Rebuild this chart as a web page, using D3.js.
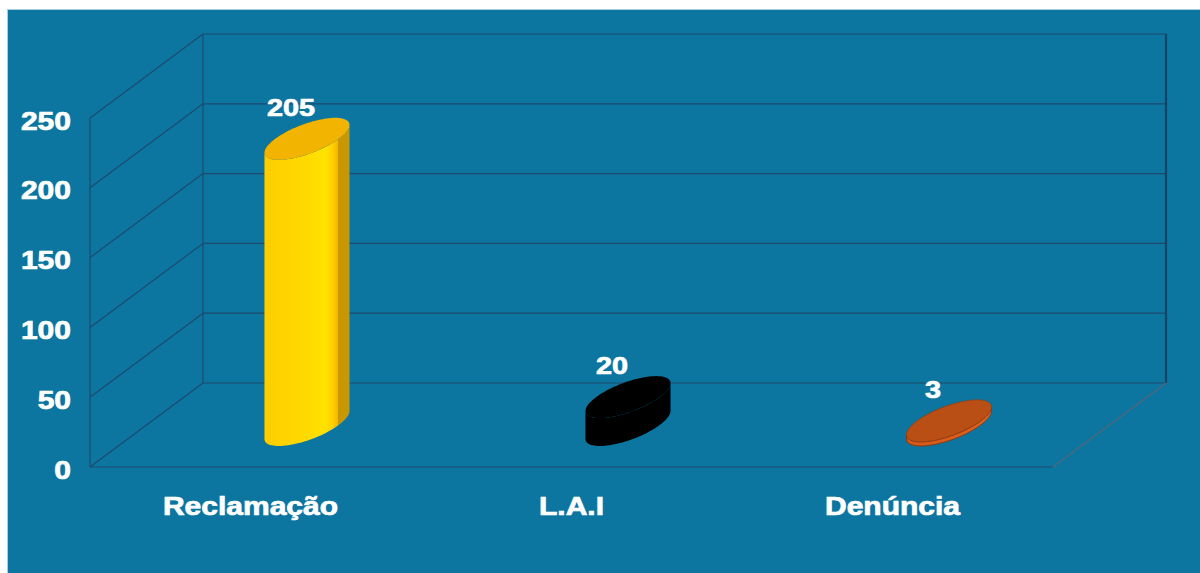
<!DOCTYPE html>
<html>
<head>
<meta charset="utf-8">
<script src="https://cdn.jsdelivr.net/npm/d3@7"></script>
<style>
  body { margin: 0; background: #ffffff; }
  text { font-family: "Liberation Sans", Arial, sans-serif; font-weight: bold; fill: #ffffff; stroke: #ffffff; stroke-width: 0.7px; }
</style>
</head>
<body>
<script>
// ---- data ----
var categories = ["Reclamação", "L.A.I", "Denúncia"];
var values = [205, 20, 3];
var yTicks = [0, 50, 100, 150, 200, 250];

// ---- plot geometry (oblique 3D box) ----
var width = 1200, height = 573,
    frontLeft = 90, frontRight = 1053,
    floorY = 467, topY = 118,
    depthDx = 113, depthDy = -84,
    gridColor = "#1d4a6e",
    stretch = 1.2;            // the original text looks horizontally stretched

var barColors = [
  { stops: [["0%", "#ffcd00"], ["45%", "#ffd800"], ["72%", "#ffe200"], ["80%", "#ffd000"], ["86%", "#f4b800"], ["87%", "#c99700"], ["100%", "#c99700"]], top: "#f2b400", edge: "none" },
  { stops: [["0%", "#000000"], ["100%", "#000000"]], top: "#000000", edge: "none" },
  { stops: [["0%", "#d2581a"], ["100%", "#e0601c"]], top: "#b94f14", edge: "#8a3a10" }
];

var svg = d3.select("body").append("svg")
  .attr("width", width)
  .attr("height", height);

// panel background
svg.append("rect")
  .attr("x", 7.5).attr("y", 9.5)
  .attr("width", width - 7).attr("height", height - 9)
  .attr("fill", "#0c76a0")
  .attr("stroke", "#a9cde2")
  .attr("stroke-width", 1);

var x = d3.scaleBand().domain(categories).range([frontLeft, frontRight]);
var y = d3.scaleLinear().domain([0, 250]).range([floorY, topY]);
// depth 0 = front, 1 = back
var depth = d3.scaleLinear().domain([0, 1]).range([0, 1]);

function proj(px, py, d) {
  return [px + depthDx * depth(d), py + depthDy * depth(d)];
}

function addLine(p1, p2, color, w) {
  svg.append("line")
    .attr("x1", p1[0]).attr("y1", p1[1])
    .attr("x2", p2[0]).attr("y2", p2[1])
    .attr("stroke", color)
    .attr("stroke-width", w || 1.2);
}

// back wall gridlines + left wall diagonals
yTicks.forEach(function (t) {
  addLine(proj(frontLeft, y(t), 1), proj(frontRight, y(t), 1), gridColor);
  addLine(proj(frontLeft, y(t), 0), proj(frontLeft, y(t), 1), gridColor);
});
addLine(proj(frontLeft, y(0), 1), proj(frontLeft, y(250), 1), gridColor);   // back-left edge
addLine(proj(frontLeft, y(0), 0), proj(frontLeft, y(250), 0), gridColor);   // left wall front edge
addLine(proj(frontRight, y(0), 1), proj(frontRight, y(250), 1), "#1a4262", 2.2); // right edge of back wall
addLine(proj(frontLeft, y(0), 0), proj(frontRight, y(0), 0), gridColor);    // floor front edge
addLine(proj(frontRight, y(0), 0), proj(frontRight, y(0), 1), "#54667a", 1.4); // floor right edge

// y axis labels
var yAxis = d3.axisLeft(y).tickValues(yTicks).tickSize(0).tickPadding(0);
var axisG = svg.append("g").attr("transform", "translate(" + frontLeft + ",0)").call(yAxis);
axisG.select(".domain").remove();
axisG.selectAll(".tick text").remove();
axisG.selectAll(".tick").append("g")
  .attr("transform", "translate(-19,11) scale(" + stretch + ",1)")
  .append("text")
  .attr("text-anchor", "end")
  .style("font-size", "25px")
  .text(function (d) { return d; });

// category labels
svg.selectAll(".cat")
  .data(categories)
  .enter().append("g")
  .attr("class", "cat")
  .attr("transform", function (d) { return "translate(" + (x(d) + x.bandwidth() / 2) + ",515) scale(" + stretch + ",1)"; })
  .append("text")
  .attr("text-anchor", "middle")
  .style("font-size", "25px")
  .text(function (d) { return d; });

// cylinders
var defs = svg.append("defs");
var rX = x.bandwidth() * 0.099,   // radius across
    rD = 0.25,                     // radius in depth (fraction of box depth)
    dCenter = 0.5;

function ellipsePoint(cx, cy, th) {
  return proj(cx + rX * Math.cos(th), cy, dCenter + rD * Math.sin(th));
}

var thR = Math.atan2(depthDx * rD, rX);  // rightmost silhouette angle
var thL = thR + Math.PI;

categories.forEach(function (c, i) {
  var cx = x(c) + x.bandwidth() / 2,
      yb = y(0), yt = y(values[i]),
      col = barColors[i], n = 48, k, th;

  var grad = defs.append("linearGradient")
    .attr("id", "g" + i)
    .attr("gradientUnits", "userSpaceOnUse")
    .attr("x1", ellipsePoint(cx, yb, thL)[0]).attr("x2", ellipsePoint(cx, yb, thR)[0])
    .attr("y1", 0).attr("y2", 0);
  col.stops.forEach(function (s) {
    grad.append("stop").attr("offset", s[0]).attr("stop-color", s[1]);
  });

  // front half of the base, then the front half of the top back again
  var pts = [];
  for (k = 0; k <= n; k++) {
    th = thL + (Math.PI * k) / n;
    pts.push(ellipsePoint(cx, yb, th));
  }
  for (k = n; k >= 0; k--) {
    th = thL + (Math.PI * k) / n;
    pts.push(ellipsePoint(cx, yt, th));
  }
  svg.append("path")
    .attr("d", d3.line()(pts) + "Z")
    .attr("fill", "url(#g" + i + ")")
    .attr("stroke", col.edge);

  var topPts = [];
  for (k = 0; k < 2 * n; k++) {
    topPts.push(ellipsePoint(cx, yt, (Math.PI * k) / n));
  }
  svg.append("path")
    .attr("d", d3.line()(topPts) + "Z")
    .attr("fill", col.top)
    .attr("stroke", col.edge === "none" ? "none" : col.edge)
    .attr("stroke-width", 0.6);

  // value label
  var center = proj(cx, yt, dCenter);
  var topOfEllipse = ellipsePoint(cx, yt, Math.PI / 2)[1];
  svg.append("g")
    .attr("transform", "translate(" + (center[0] - 16) + "," + (topOfEllipse - 2) + ") scale(" + stretch + ",1)")
    .append("text")
    .attr("text-anchor", "middle")
    .style("font-size", "24px")
    .text(values[i]);
});
</script>
</body>
</html>
